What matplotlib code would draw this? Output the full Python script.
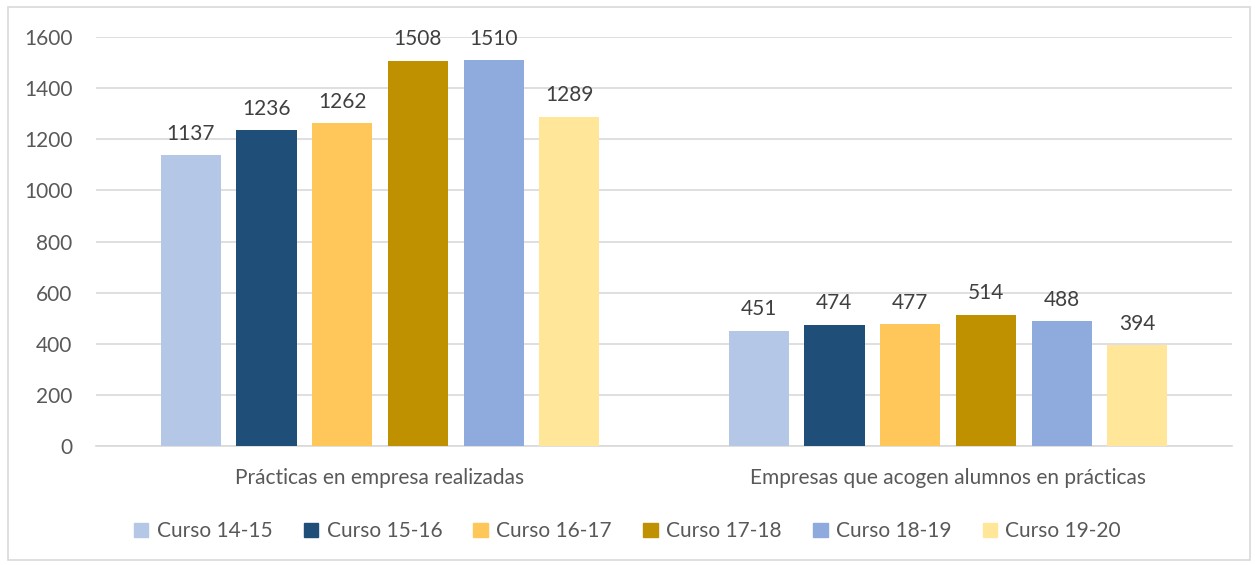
import matplotlib.pyplot as plt
import matplotlib.patches as mpatches
import numpy as np

plt.rcParams['font.family'] = ['Lato', 'DejaVu Sans']

categorias = ["Prácticas en empresa realizadas", "Empresas que acogen alumnos en prácticas"]
cursos = ["Curso 14-15", "Curso 15-16", "Curso 16-17", "Curso 17-18", "Curso 18-19", "Curso 19-20"]
valores = [
    [1137, 451],
    [1236, 474],
    [1262, 477],
    [1508, 514],
    [1510, 488],
    [1289, 394],
]
colores = ['#B4C7E7', '#1F4E79', '#FFC659', '#BF9000', '#8FAADC', '#FFE699']

fs = 15
txt = '#595959'

fig = plt.figure(figsize=(12.55, 5.65), dpi=100)
ax = fig.add_axes([0.0765, 0.2106, 0.9052, 0.7239])

x = np.arange(len(categorias))
step = 0.8 / len(cursos)
width = 0.106
for i, (curso, vals) in enumerate(zip(cursos, valores)):
    pos = x - 0.4 + step * (i + 0.5)
    bars = ax.bar(pos, vals, width, color=colores[i], label=curso, zorder=3)
    for b, v in zip(bars, vals):
        ax.text(b.get_x() + b.get_width() / 2, v + 45, str(v), ha='center', va='bottom',
                fontsize=fs, color='#404040', zorder=4)

ax.set_xlim(-0.5, 1.5)
ax.set_ylim(0, 1600)
ax.set_yticks(range(0, 1601, 200))
ax.set_xticks(x)
ax.set_xticklabels(categorias)
ax.tick_params(axis='both', length=0, labelsize=fs, colors=txt)
ax.tick_params(axis='x', pad=16)
ax.tick_params(axis='y', pad=17)
ax.grid(axis='y', color='#D9D9D9', lw=1.2, zorder=0)
for s in ['top', 'right', 'left']:
    ax.spines[s].set_visible(False)
ax.spines['bottom'].set_color('#D9D9D9')
ax.spines['bottom'].set_linewidth(1.2)

handles = [mpatches.Patch(color=c, label=l) for c, l in zip(colores, cursos)]
fig.legend(handles=handles, loc='center', bbox_to_anchor=(0.5, 0.06), ncol=6,
           frameon=False, fontsize=fs, labelcolor=txt, handlelength=0.7, handleheight=0.7,
           handletextpad=0.4, columnspacing=1.5)

border = mpatches.Rectangle((0.006, 0.008), 0.99, 0.98, transform=fig.transFigure,
                            fill=False, edgecolor='#D9D9D9', lw=1.2)
fig.patches.append(border)

fig.savefig('out.png', dpi=100)
